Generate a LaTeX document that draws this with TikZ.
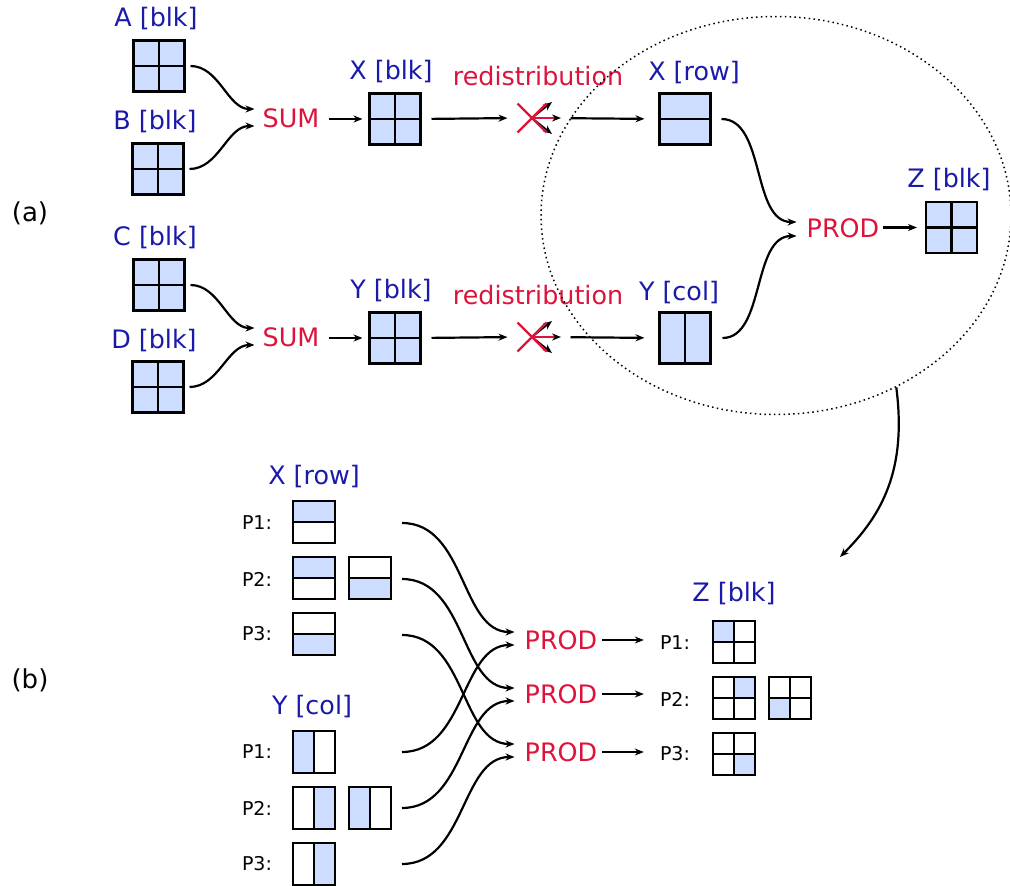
\documentclass[tikz,border=0pt]{standalone}
\usepackage{fontspec}
\setmainfont{DejaVu Sans}
\usetikzlibrary{arrows.meta,shapes.geometric,shapes.misc}
\definecolor{cellblue}{HTML}{CCDDFF}
\definecolor{lblue}{HTML}{1A1AAA}
\definecolor{pred}{HTML}{DC143C}
\newcommand\qf[2]{\fill[cellblue] (path picture bounding box.#1) rectangle (path picture bounding box.#2);}
\newcommand\hdv{\draw[line width=2.5pt] (path picture bounding box.west) -- (path picture bounding box.east);}
\newcommand\vdv{\draw[line width=2.5pt] (path picture bounding box.north) -- (path picture bounding box.south);}
\begin{document}
\begin{tikzpicture}[x=1pt,y=-1pt,
  font=\fontsize{25.4}{30}\selectfont,
  bx/.style={draw, line width=2.5pt, inner sep=0pt, outer sep=0pt, minimum width=51pt, minimum height=51pt},
  sbx/.style={bx, minimum width=42pt, minimum height=42pt},
  pp/.style={path picture={#1}},
  blkfull/.style={bx, fill=cellblue, pp={\hdv\vdv}},
  lbl/.style={text=lblue, inner sep=0pt},
  op/.style={text=pred, inner sep=0pt},
  pl/.style={inner sep=0pt, font=\fontsize{19}{22}\selectfont},
  arr/.style={line width=2.2pt, -{Stealth[length=9pt,width=7pt]}},
  tipk/.style={line width=2.2pt, draw=pred, -{Stealth[length=9pt,width=7pt,color=black]}},
  crs/.style={cross out, draw=pred, line width=2.2pt, minimum size=29pt, inner sep=0pt, outer sep=0pt},
]
\useasboundingbox (0,0) rectangle (1010,886);

% ---------- (a) ----------
\node[inner sep=0pt, font=\fontsize{26}{30}\selectfont] (la) at (30,213) {(a)};
\node[inner sep=0pt, font=\fontsize{26}{30}\selectfont] (lb) at (30,680) {(b)};

\node[lbl] (Al) at (156,19) {A [blk]};
\node[blkfull] (A) at (159,66) {};
\node[lbl] (Bl) at (155,122) {B [blk]};
\node[blkfull] (B) at (158,169) {};
\node[lbl] (Cl) at (155,238) {C [blk]};
\node[blkfull] (C) at (159,285) {};
\node[lbl] (Dl) at (154,341) {D [blk]};
\node[blkfull] (D) at (158,387) {};

\node[op] (S1) at (291,118) {SUM};
\node[op] (S2) at (291,337) {SUM};

\draw[arr, shorten <=6pt, shorten >=8pt] (A.east) to[out=0,in=180] ([yshift=9pt]S1.west);
\draw[arr, shorten <=6pt, shorten >=8pt] (B.east) to[out=0,in=180] ([yshift=-8pt]S1.west);
\draw[arr, shorten <=6pt, shorten >=8pt] (C.east) to[out=0,in=180] ([yshift=9pt]S2.west);
\draw[arr, shorten <=6pt, shorten >=8pt] (D.east) to[out=0,in=180] ([yshift=-8pt]S2.west);

\node[lbl] (Xbl) at (391,72) {X [blk]};
\node[blkfull] (Xb) at (395,119) {};
\node[lbl] (Ybl) at (391,291) {Y [blk]};
\node[blkfull] (Yb) at (395,338) {};

\draw[arr, shorten <=9pt, shorten >=7pt] (Xb.west -| S1.east) -- (Xb.west);
\draw[arr, shorten <=9pt, shorten >=7pt] (Yb.west -| S2.east) -- (Yb.west);

\node[op] (R1l) at (538,76) {redistribution};
\node[op] (R2l) at (538,295) {redistribution};

% redistribution crosses
\coordinate (R1c) at (532,118);
\coordinate (R1u) at (552,102);
\coordinate (R1r) at (561,118);
\coordinate (R1d) at (552,134);
\draw[arr, line width=1.7pt] (R1c) -- (R1u);
\draw[arr, line width=1.7pt] (R1c) -- (R1d);
\node[crs] (R1) at (R1c) {};
\draw[tipk] (R1c) -- (R1r);

\coordinate (R2c) at (532,337);
\coordinate (R2u) at (552,321);
\coordinate (R2r) at (561,337);
\coordinate (R2d) at (552,353);
\draw[arr, line width=1.7pt] (R2c) -- (R2u);
\draw[arr, line width=1.7pt] (R2c) -- (R2d);
\node[crs] (R2) at (R2c) {};
\draw[tipk] (R2c) -- (R2r);

\draw[arr, shorten <=11pt, shorten >=10pt] (Xb.east) -- (R1.west);
\draw[arr, shorten <=11pt, shorten >=10pt] (Yb.east) -- (R2.west);

\node[lbl] (Xrl) at (694,73) {X [row]};
\node[bx, fill=cellblue, pp={\hdv}] (Xr) at (685,119) {};
\node[lbl] (Ycl) at (679,293) {Y [col]};
\node[bx, fill=cellblue, pp={\vdv}] (Yc) at (685,338) {};

\draw[arr, shorten <=24pt, shorten >=15pt] (R1.east) -- (Xr.west);
\draw[arr, shorten <=24pt, shorten >=15pt] (R2.east) -- (Yc.west);

\node[op] (P0) at (843,228) {PROD};
\draw[arr, shorten <=11pt, shorten >=10pt] (Xr.east) to[out=0,in=180] ([yshift=6pt]P0.west);
\draw[arr, shorten <=12pt, shorten >=10pt] (Yc.east) to[out=0,in=180] ([yshift=-8pt]P0.west);

\node[lbl] (Zl) at (949,180) {Z [blk]};
\node[blkfull] (Z) at (951.5,227.5) {};
\draw[arr, shorten <=4pt, shorten >=9pt] (Z.west -| P0.east) -- (Z.west);

% dotted ellipse
\node[ellipse, draw, line width=1.5pt, dash pattern=on 1.5pt off 3.3pt, minimum width=470pt, minimum height=398pt, inner sep=0pt] (E) at (776,215.5) {};
\coordinate (Zin) at (840,557);
\draw[arr] (E.-55) .. controls (907,470) and (882,515) .. (Zin);

% ---------- (b) ----------
\node[lbl] (bXl) at (314,477) {X [row]};
\node[pl] (xp1) at (257,523) {P1:};
\node[pl] (xp2) at (257,579) {P2:};
\node[pl] (xp3) at (257,634) {P3:};
\node[sbx, pp={\qf{north west}{east}\hdv}] (Xr1) at (314,522) {};
\node[sbx, pp={\qf{north west}{east}\hdv}] (Xr2a) at (314,578) {};
\node[sbx, pp={\qf{west}{south east}\hdv}] (Xr2b) at (370,578) {};
\node[sbx, pp={\qf{west}{south east}\hdv}] (Xr3) at (314,634) {};

\node[lbl] (bYl) at (312,707) {Y [col]};
\node[pl] (yp1) at (257,752) {P1:};
\node[pl] (yp2) at (257,808) {P2:};
\node[pl] (yp3) at (257,864) {P3:};
\node[sbx, pp={\qf{north west}{south}\vdv}] (Yc1) at (314,752) {};
\node[sbx, pp={\qf{north}{south east}\vdv}] (Yc2a) at (314,808) {};
\node[sbx, pp={\qf{north west}{south}\vdv}] (Yc2b) at (370,808) {};
\node[sbx, pp={\qf{north}{south east}\vdv}] (Yc3) at (314,864) {};

\node[op] (P1) at (561,640) {PROD};
\node[op] (P2) at (561,694) {PROD};
\node[op] (P3) at (561,752) {PROD};

\coordinate (sx1) at (402,523);
\coordinate (sx2) at (402,579);
\coordinate (sx3) at (402,635);
\coordinate (sy1) at (402,752);
\coordinate (sy2) at (402,808);
\coordinate (sy3) at (402,864);

\draw[arr, shorten >=10pt] (sx1) to[out=0,in=180] ([yshift=8pt]P1.west);
\draw[arr, shorten >=10pt] (sx2) to[out=0,in=180] ([yshift=6pt]P2.west);
\draw[arr, shorten >=10pt] (sx3) to[out=0,in=180] ([yshift=8pt]P3.west);
\draw[arr, shorten >=10pt] (sy1) to[out=0,in=180] ([yshift=-5pt]P1.west);
\draw[arr, shorten >=10pt] (sy2) to[out=0,in=180] ([yshift=-7pt]P2.west);
\draw[arr, shorten >=10pt] (sy3) to[out=0,in=180] ([yshift=-5pt]P3.west);

\node[lbl] (bZl) at (734,594) {Z [blk]};
\node[pl] (zp1) at (675,643) {P1:};
\node[pl] (zp2) at (675,699) {P2:};
\node[pl] (zp3) at (675,754) {P3:};
\node[sbx, pp={\qf{north west}{center}\hdv\vdv}] (Zb1) at (734,642) {};
\node[sbx, pp={\qf{north}{east}\hdv\vdv}] (Zb2a) at (734,698) {};
\node[sbx, pp={\qf{west}{south}\hdv\vdv}] (Zb2b) at (790,698) {};
\node[sbx, pp={\qf{center}{south east}\hdv\vdv}] (Zb3) at (734,754) {};

\draw[arr, shorten <=5pt, shorten >=16pt] (P1.east) -- (P1.east -| zp1.west);
\draw[arr, shorten <=5pt, shorten >=16pt] (P2.east) -- (P2.east -| zp2.west);
\draw[arr, shorten <=5pt, shorten >=16pt] (P3.east) -- (P3.east -| zp3.west);
\end{tikzpicture}
\end{document}
